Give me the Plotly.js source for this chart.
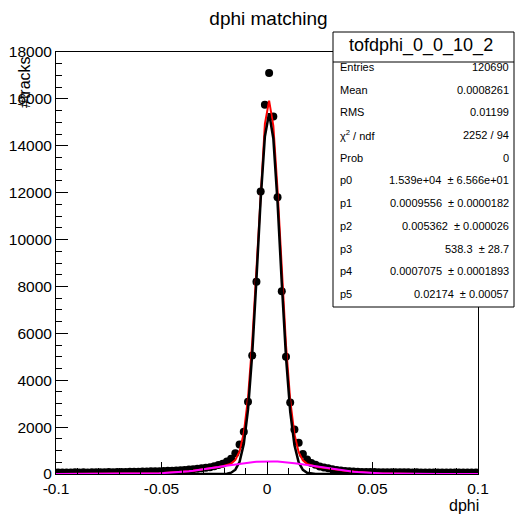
<!DOCTYPE html>
<html><head><meta charset="utf-8">
<script src="https://cdn.plot.ly/plotly-3.0.1.min.js"></script>
<style>html,body{margin:0;padding:0;background:#fff}#chart{width:518px;height:516px}</style>
</head><body><div id="chart"></div>
<script>
// ---- data ----
const binCenters = [
 -0.099,-0.097,-0.095,-0.093,-0.091,-0.089,-0.087,-0.085,-0.083,-0.081,
 -0.079,-0.077,-0.075,-0.073,-0.071,-0.069,-0.067,-0.065,-0.063,-0.061,
 -0.059,-0.057,-0.055,-0.053,-0.051,-0.049,-0.047,-0.045,-0.043,-0.041,
 -0.039,-0.037,-0.035,-0.033,-0.031,-0.029,-0.027,-0.025,-0.023,-0.021,
 -0.019,-0.017,-0.015,-0.013,-0.011,-0.009,-0.007,-0.005,-0.003,-0.001,
  0.001, 0.003, 0.005, 0.007, 0.009, 0.011, 0.013, 0.015, 0.017, 0.019,
  0.021, 0.023, 0.025, 0.027, 0.029, 0.031, 0.033, 0.035, 0.037, 0.039,
  0.041, 0.043, 0.045, 0.047, 0.049, 0.051, 0.053, 0.055, 0.057, 0.059,
  0.061, 0.063, 0.065, 0.067, 0.069, 0.071, 0.073, 0.075, 0.077, 0.079,
  0.081, 0.083, 0.085, 0.087, 0.089, 0.091, 0.093, 0.095, 0.097, 0.099];
const counts = [
  66, 62, 68, 64, 70, 67, 72, 69, 74, 72,
  77, 75, 80, 79, 84, 86, 90, 93, 97,101,
 105,109,113,117,121,127,134,142,152,163,
 175,188,203,220,240,262,290,330,380,440,
 530,650,890,1260,1800,3080,5050,8200,12050,15750,
 17100,15250,11800,7800,5000,3050,1900,1330,850,620,
 470,390,320,275,240,205,175,150,130,115,
 104, 96, 90, 86, 82, 80, 78, 77, 75, 74,
  73, 71, 72, 70, 69, 70, 68, 69, 67, 68,
  66, 67, 65, 66, 64, 66, 65, 64, 65, 66];
// fit parameters shown in the stats box
const sigPars = [15390, 0.0009556, 0.005362];   // p0,p1,p2
const bkgPars = [538.3, 0.0007075, 0.02174];    // p3,p4,p5
const xTickVals = [-0.1, -0.05, 0, 0.05, 0.1];
const xTickText = ['-0.1', '-0.05', '0', '0.05', '0.1'];
const statsTitle = 'tofdphi_0_0_10_2';
const statLabels = ['Entries','Mean','RMS','\u03C7<sup>2</sup> / ndf','Prob','p0','p1','p2','p3','p4','p5'];
const statValues = ['120690','0.0008261','0.01199','2252 / 94','0',
  '1.539e+04  \u00B1 6.566e+01','0.0009556  \u00B1 0.0000182','0.005362  \u00B1 0.000026',
  '538.3  \u00B1 28.7','0.0007075  \u00B1 0.0001893','0.02174  \u00B1 0.00057'];

// ---- fit function curves, sampled at the bin centres plus the range ends ----
function gaus(p, x){ return p[0]*Math.exp(-0.5*Math.pow((x-p[1])/p[2],2)); }
const fx = [-0.1].concat(binCenters, [0.1]);
const fSig = fx.map(x => gaus(sigPars, x));
const fBkg = fx.map(x => gaus(bkgPars, x));
const fTot = fx.map((x, i) => fSig[i] + fBkg[i]);

const FONT = 'Liberation Sans, Arial, Helvetica, sans-serif';
const L = 56, R = 478, T = 52, B = 474;
const px = v => (v - L) / (R - L);
const py = v => (B - v) / (B - T);

const traces = [
  {x: binCenters, y: counts, type: 'scatter', mode: 'markers',
   marker: {color: 'black', size: 8}, hoverinfo: 'x+y'},
  {x: fx, y: fTot, type: 'scatter', mode: 'lines', line: {color: '#ff0000', width: 2}},
  {x: fx, y: fSig, type: 'scatter', mode: 'lines', line: {color: 'black', width: 2.5}},
  {x: fx, y: fBkg, type: 'scatter', mode: 'lines', line: {color: '#ff00ff', width: 2}}
];

const shapes = [
  {type: 'rect', xref: 'paper', yref: 'paper', x0: px(333), x1: px(514), y0: py(307), y1: py(32),
   fillcolor: 'white', line: {color: 'black', width: 1}, layer: 'above'},
  {type: 'line', xref: 'paper', yref: 'paper', x0: px(333), x1: px(514), y0: py(62), y1: py(62),
   line: {color: 'black', width: 1}, layer: 'above'}
];

const annotations = [
  {text: statsTitle, xref: 'paper', yref: 'paper', x: px(421), y: py(46), xanchor: 'center', yanchor: 'middle',
   showarrow: false, font: {family: FONT, size: 18, color: 'black'}},
  {text: '#tracks', xref: 'paper', yref: 'paper', x: px(25), y: py(82), xanchor: 'center', yanchor: 'middle',
   textangle: -90, showarrow: false, font: {family: FONT, size: 16, color: 'black'}},
  {text: 'dphi', xref: 'paper', yref: 'paper', x: px(481), y: py(506), xanchor: 'right', yanchor: 'middle',
   showarrow: false, font: {family: FONT, size: 16, color: 'black'}}
];
statLabels.forEach((lab, i) => {
  const yy = py(67 + i*22.7);
  annotations.push({text: lab, xref: 'paper', yref: 'paper', x: px(338), y: yy, xanchor: 'left', yanchor: 'middle',
    showarrow: false, font: {family: FONT, size: 11, color: 'black'}});
  annotations.push({text: statValues[i], xref: 'paper', yref: 'paper', x: px(511), y: yy, xanchor: 'right', yanchor: 'middle',
    showarrow: false, font: {family: FONT, size: 11, color: 'black'}});
});

const layout = {
  width: 518, height: 516,
  margin: {l: L, r: 518 - R, t: T, b: 516 - B, pad: 0},
  paper_bgcolor: 'white', plot_bgcolor: 'white',
  showlegend: false,
  title: {text: 'dphi matching', font: {family: FONT, size: 19, color: 'black'},
          xref: 'paper', x: px(268.5), xanchor: 'center', yref: 'container', y: 1 - 18/516, yanchor: 'middle'},
  xaxis: {range: [-0.1, 0.1], tickmode: 'array', tickvals: xTickVals, ticktext: xTickText,
          ticks: 'inside', ticklen: 12, tickwidth: 1, tickcolor: 'black',
          minor: {tickmode: 'linear', tick0: 0, dtick: 0.01, ticks: 'inside', ticklen: 6, tickcolor: 'black', showgrid: false},
          showgrid: false, zeroline: false, showline: true, mirror: true, linecolor: 'black', linewidth: 1,
          tickfont: {family: FONT, size: 15.5, color: 'black'}},
  yaxis: {range: [0, 18000], tickmode: 'linear', tick0: 0, dtick: 2000, tickformat: 'd',
          ticks: 'inside', ticklen: 12, tickwidth: 1, tickcolor: 'black',
          minor: {tickmode: 'linear', tick0: 0, dtick: 500, ticks: 'inside', ticklen: 6, tickcolor: 'black', showgrid: false},
          showgrid: false, zeroline: false, showline: true, mirror: true, linecolor: 'black', linewidth: 1,
          tickfont: {family: FONT, size: 15.5, color: 'black'}},
  shapes: shapes,
  annotations: annotations
};

Plotly.newPlot('chart', traces, layout, {displayModeBar: false, staticPlot: true});
</script>
</body></html>
